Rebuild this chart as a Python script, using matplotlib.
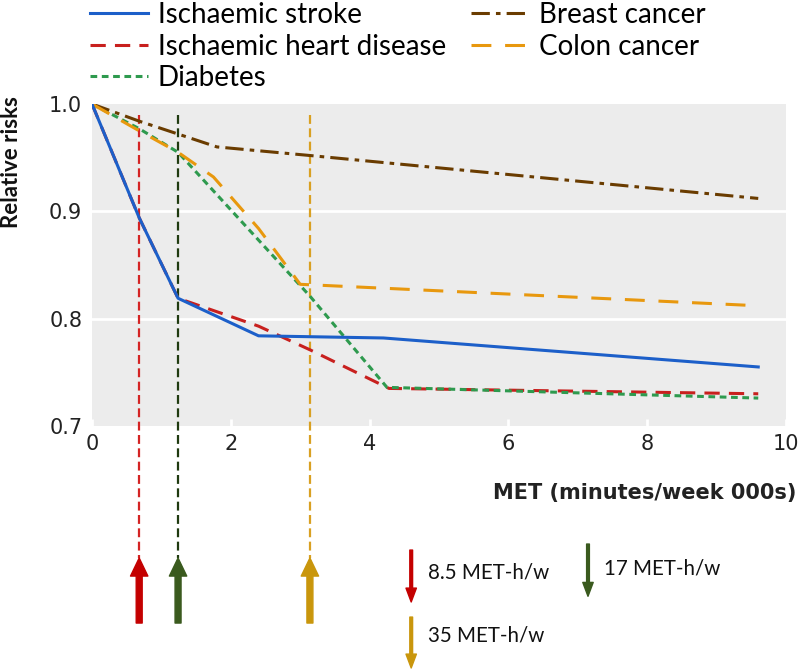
import matplotlib
matplotlib.use("Agg")
import matplotlib.pyplot as plt
import matplotlib.transforms as mtransforms

# Curvas de riesgo relativo
stroke_x = [0, 0.68, 1.24, 2.4, 4.2, 9.6]
stroke_y = [1.0, 0.894, 0.819, 0.784, 0.782, 0.755]

ihd_x = [0, 0.68, 1.24, 2.4, 3.14, 4.28, 9.6]
ihd_y = [1.0, 0.894, 0.819, 0.793, 0.771, 0.735, 0.730]

diab_x = [0, 0.68, 1.24, 3.14, 4.25, 9.6]
diab_y = [1.0, 0.977, 0.955, 0.821, 0.736, 0.726]

breast_x = [0, 0.68, 1.24, 1.8, 3.14, 9.6]
breast_y = [1.0, 0.984, 0.972, 0.960, 0.952, 0.912]

colon_x = [0, 0.68, 1.24, 1.75, 2.4, 3.0, 9.6]
colon_y = [1.0, 0.975, 0.955, 0.932, 0.884, 0.832, 0.812]

# Umbrales (miles de MET-min/semana)
umbral_x = [0.68, 1.24, 3.14]
umbral_lbl = ["8.5 MET-h/w", "17 MET-h/w", "35 MET-h/w"]
umbral_vline = ["#d42424", "#1f3a10", "#d9a022"]
umbral_arrow = ["#c40000", "#3a5a1e", "#c9960c"]

yticks = [0.7, 0.8, 0.9, 1.0]
xticks = [0, 2, 4, 6, 8, 10]

TXT = ["Lato", "DejaVu Sans"]


def main():
    fig = plt.figure(figsize=(8, 6.7), dpi=100)
    ax = fig.add_axes([0.115, 0.3642, 0.8675, 0.4806])
    ax.set_facecolor("#ececec")
    for s in ax.spines.values():
        s.set_visible(False)
    ax.set_xlim(0, 10)
    ax.set_ylim(0.7, 1.0)
    ax.set_yticks(yticks)
    ax.set_yticklabels([f"{v:.1f}" for v in yticks])
    ax.set_xticks(xticks)
    ax.tick_params(axis="y", length=0, pad=7, labelsize=15, labelcolor="#222222")
    ax.tick_params(axis="x", direction="in", length=5, width=2, color="white",
                   pad=6, labelsize=15, labelcolor="#222222")
    for v in [0.8, 0.9]:
        ax.axhline(v, color="white", lw=2, zorder=1)

    # líneas verticales de umbral y flechas hacia arriba
    blend = mtransforms.blended_transform_factory(ax.transData, ax.transAxes)
    for x, cl, ca in zip(umbral_x, umbral_vline, umbral_arrow):
        ax.plot([x, x], [0.967, -0.41], transform=blend, clip_on=False,
                color=cl, lw=1.6, dashes=(4, 2), zorder=1.5)
        ax.annotate("", xy=(x, -0.41), xytext=(x, -0.612),
                    xycoords=blend, textcoords=blend,
                    arrowprops=dict(width=4.3, headwidth=12.5, headlength=13,
                                    facecolor=ca, edgecolor=ca, shrink=0))

    ax.plot(stroke_x, stroke_y, color="#1c5fc9", lw=2.2, label="Ischaemic stroke", zorder=4)
    ax.plot(ihd_x, ihd_y, color="#c8201e", lw=2.2, dashes=(5, 3),
            label="Ischaemic heart disease", zorder=3)
    ax.plot(diab_x, diab_y, color="#2e9a4e", lw=2.2, dashes=(2.2, 1.5),
            label="Diabetes", zorder=3)
    ax.plot(breast_x, breast_y, color="#6a3c00", lw=2.2, dashes=(6, 2, 1.5, 2),
            label="Breast cancer", zorder=3)
    ax.plot(colon_x, colon_y, color="#e8980e", lw=2.2, dashes=(6.5, 4.5),
            label="Colon cancer", zorder=3)

    fig.legend(loc="upper left", bbox_to_anchor=(0.112, 0.997), ncol=2,
               frameon=False, prop={"family": TXT, "size": 20},
               handlelength=2.1, handletextpad=0.35, columnspacing=0.9,
               labelspacing=0.2, borderpad=0, borderaxespad=0)

    fig.text(0.996, 0.264, "MET (minutes/week 000s)", ha="right", va="center",
             fontsize=15, fontweight="bold", color="#222222", family="DejaVu Sans")
    fig.text(0.015, 0.758, "Relative risks", rotation=90, ha="center", va="center",
             fontsize=16, fontweight="bold", color="#111111", family=TXT)

    # leyenda de las flechas
    ley_x = [0.514, 0.735, 0.514]
    ley_top = [0.179, 0.188, 0.079]
    ley_tip = [0.1015, 0.110, 0.003]
    txt_x = [0.535, 0.755, 0.535]
    txt_y = [0.146, 0.152, 0.052]
    for i in range(3):
        ax.annotate("", xy=(ley_x[i], ley_tip[i]), xytext=(ley_x[i], ley_top[i]),
                    xycoords="figure fraction", textcoords="figure fraction",
                    arrowprops=dict(width=2, headwidth=7.5, headlength=10,
                                    facecolor=umbral_arrow[i], edgecolor=umbral_arrow[i],
                                    shrink=0))
        fig.text(txt_x[i], txt_y[i], umbral_lbl[i], ha="left", va="center",
                 fontsize=14.8, color="#111111", family=TXT)

    fig.savefig("out.png", dpi=100)
    plt.close(fig)


if __name__ == "__main__":
    main()
